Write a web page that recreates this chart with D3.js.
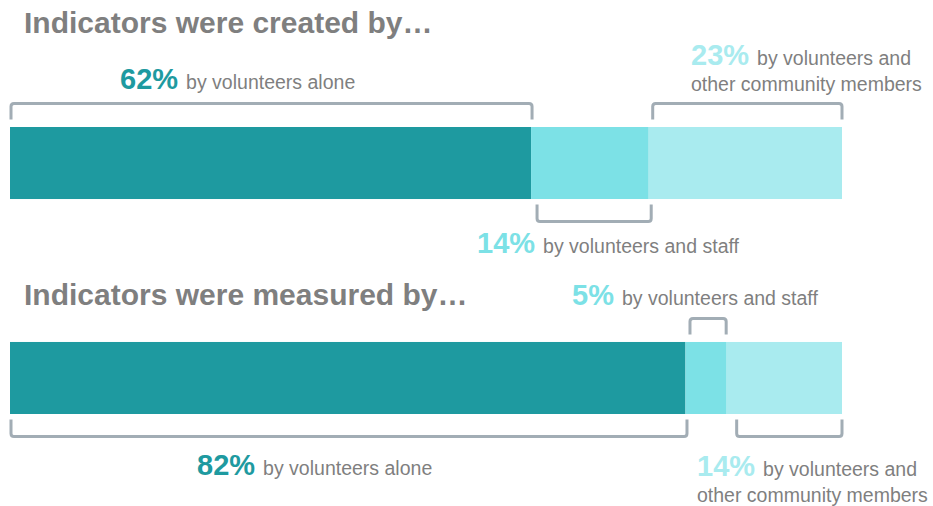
<!DOCTYPE html>
<html>
<head>
<meta charset="utf-8">
<script src="https://cdn.jsdelivr.net/npm/d3@7"></script>
<style>
  html, body { margin: 0; padding: 0; background: #ffffff; }
  svg { display: block; font-family: "Liberation Sans", Arial, Helvetica, sans-serif; }
</style>
</head>
<body>
<svg id="chart" width="933" height="506"></svg>
<script>
// ---- DATA ----
const categories = ["Indicators were created by…", "Indicators were measured by…"];
const seriesNames = ["by volunteers alone", "by volunteers and staff", "by volunteers and other community members"];
const createdValues = [62, 14, 23];
const measuredValues = [82, 5, 14];
const labelLines = [
  ["by volunteers alone"],
  ["by volunteers and staff"],
  ["by volunteers and", "other community members"]
];

// ---- STYLE / LAYOUT ----
const segColors = ["#1e9aa0", "#7ce1e6", "#a9ebef"];
const bracketColor = "#a2adb5";
const textGray = "#7f7f7f";

const svg = d3.select("#chart");

const y = d3.scaleBand().domain(categories).range([127, 414]).paddingInner(0.665).paddingOuter(0);

// annotation layout per bar: segment index, side, label x, label baseline, bracket x adjust
const layouts = [
  [
    { seg: 0, side: "top", lx: 120, ly: 89, adj: [1, 1] },
    { seg: 2, side: "top", lx: 691, ly: 65, adj: [4, 0] },
    { seg: 1, side: "bottom", lx: 477, ly: 253, adj: [6, 2.5] }
  ],
  [
    { seg: 1, side: "top", lx: 572, ly: 305, adj: [4.5, -0.5] },
    { seg: 0, side: "bottom", lx: 197, ly: 475, adj: [1, 1.5] },
    { seg: 2, side: "bottom", lx: 697, ly: 476, adj: [10, 0] }
  ]
];
const titleBaselines = [33, 305];

const datasets = [createdValues, measuredValues];

function bracketPath(x0, x1, yLeg, yLine) {
  const r = 3;
  const dir = yLine < yLeg ? -1 : 1;
  return `M${x0},${yLeg} L${x0},${yLine - dir * r} Q${x0},${yLine} ${x0 + r},${yLine} ` +
         `L${x1 - r},${yLine} Q${x1},${yLine} ${x1},${yLine - dir * r} L${x1},${yLeg}`;
}

categories.forEach((cat, bi) => {
  const values = datasets[bi];
  const x = d3.scaleLinear().domain([0, d3.sum(values)]).range([10, 842]);
  const stack = [];
  let acc = 0;
  values.forEach((v, i) => { stack.push({ i, v, s: acc, e: acc + v }); acc += v; });

  const top = y(cat), bh = y.bandwidth(), bottom = top + bh;

  // title
  svg.append("text")
    .attr("x", 24).attr("y", titleBaselines[bi])
    .attr("font-size", 30).attr("font-weight", "bold")
    .attr("fill", textGray)
    .text(cat);

  // bars
  svg.append("g").selectAll("rect").data(stack).join("rect")
    .attr("x", d => x(d.s)).attr("y", top)
    .attr("width", d => x(d.e) - x(d.s)).attr("height", bh)
    .attr("fill", d => segColors[d.i]);

  // annotations
  layouts[bi].forEach(a => {
    const d = stack[a.seg];
    const x0 = x(d.s) + a.adj[0], x1 = x(d.e) + a.adj[1];
    let yLeg, yLine;
    if (a.side === "top") { yLeg = top - 7.5; yLine = top - 23.5; }
    else { yLeg = bottom + 5.5; yLine = bottom + 22.5; }
    svg.append("path")
      .attr("d", bracketPath(x0, x1, yLeg, yLine))
      .attr("fill", "none").attr("stroke", bracketColor)
      .attr("stroke-width", 3).attr("stroke-linecap", "butt");

    const lines = labelLines[a.seg];
    const t = svg.append("text").attr("x", a.lx).attr("y", a.ly);
    t.append("tspan")
      .attr("font-size", 29).attr("font-weight", "bold")
      .attr("fill", segColors[d.i])
      .text(d.v + "% ");
    t.append("tspan")
      .attr("font-size", 19.5).attr("fill", textGray)
      .text(lines[0]);
    lines.slice(1).forEach((ln, k) => {
      svg.append("text")
        .attr("x", a.lx).attr("y", a.ly + 26 * (k + 1))
        .attr("font-size", 19.5).attr("fill", textGray)
        .text(ln);
    });
  });
});
</script>
</body>
</html>
